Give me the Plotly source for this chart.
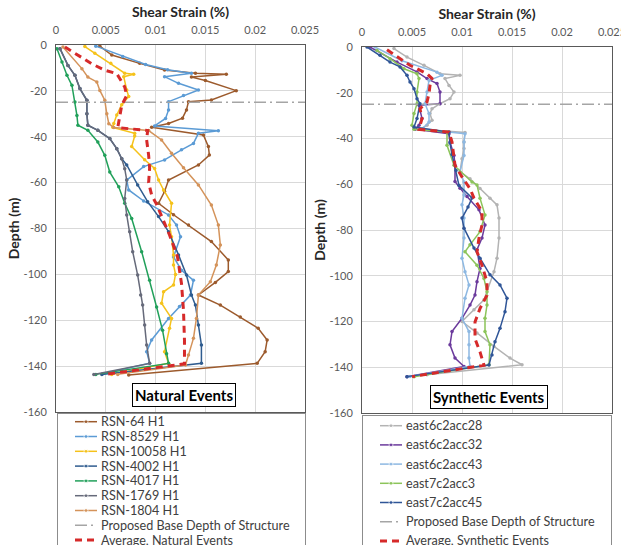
import plotly.graph_objects as go

# ---------------- data (shear strain in %, depth in m) ----------------
strain_ticks = [0, 0.005, 0.01, 0.015, 0.02, 0.025]
strain_tick_text = ["0", "0.005", "0.01", "0.015", "0.02", "0.025"]
depth_ticks = [0, -20, -40, -60, -80, -100, -120, -140, -160]
depth_tick_text = ["0", "-20", "-40", "-60", "-80", "-100", "-120", "-140", "-160"]

base_depth = -25
base_strain_span = [0, 0.025]
base_name = "Proposed Base Depth of Structure"

# Natural events
rsn64_strain = [0.0044, 0.0056, 0.0084, 0.0109, 0.0140, 0.0171, 0.0136, 0.0150, 0.0181, 0.0156, 0.0133, 0.0131,
                0.0127, 0.0113, 0.0096, 0.0148, 0.0153, 0.0154, 0.0143, 0.0113, 0.0109, 0.0103, 0.0118, 0.0133,
                0.0156, 0.0173, 0.0173, 0.0160, 0.0143, 0.0165, 0.0185, 0.0203, 0.0212, 0.0210, 0.0202, 0.0073]
rsn64_depth = [-0.5, -4.4, -8.0, -10.9, -12.3, -12.7, -14.0, -15.5, -19.9, -24.0, -24.7, -28.3,
               -31.9, -34.2, -35.9, -39.2, -44.3, -48.0, -52.3, -58.9, -63.9, -69.0, -74.0, -78.5,
               -85.7, -93.7, -98.8, -103.5, -109.0, -113.4, -118.6, -123.5, -128.6, -133.7, -138.8, -143.9]

rsn8529_strain = [0.0040, 0.0067, 0.0090, 0.0112, 0.0136, 0.0109, 0.0123, 0.0143, 0.0128, 0.0113, 0.0113, 0.0110,
                  0.0099, 0.0163, 0.0143, 0.0138, 0.0126, 0.0109, 0.0088, 0.0071, 0.0073, 0.0088, 0.0113, 0.0121,
                  0.0125, 0.0118, 0.0126, 0.0138, 0.0135, 0.0124, 0.0113, 0.0096, 0.0091, 0.0094, 0.0047]
rsn8529_depth = [-0.5, -5.0, -8.5, -10.8, -12.3, -13.8, -16.7, -19.6, -22.0, -24.7, -28.3, -32.0,
                 -35.3, -37.4, -38.5, -42.9, -45.7, -50.1, -53.0, -58.9, -63.2, -68.0, -74.1, -78.5,
                 -83.6, -92.4, -98.2, -102.6, -109.0, -114.0, -119.2, -128.6, -133.7, -138.7, -143.3]

rsn10058_strain = [0.0029, 0.0039, 0.0055, 0.0069, 0.0078, 0.0068, 0.0071, 0.0073, 0.0066, 0.0061, 0.0058, 0.0057,
                   0.0079, 0.0079, 0.0076, 0.0089, 0.0099, 0.0103, 0.0108, 0.0116, 0.0114, 0.0116, 0.0118, 0.0118,
                   0.0120, 0.0118, 0.0108, 0.0106, 0.0116, 0.0114, 0.0109, 0.0113, 0.0056]
rsn10058_depth = [-0.7, -3.6, -8.0, -12.3, -12.8, -13.8, -19.6, -22.5, -26.0, -30.5, -34.2, -35.9,
                  -38.5, -39.7, -44.3, -50.0, -53.8, -58.9, -63.2, -69.0, -78.5, -83.6, -91.5, -95.9,
                  -100.0, -104.6, -107.6, -112.6, -119.2, -123.5, -133.7, -138.7, -143.6]

rsn4002_strain = [0.0004, 0.0012, 0.0019, 0.0024, 0.0031, 0.0031, 0.0032, 0.0042, 0.0054, 0.0061, 0.0066, 0.0071,
                  0.0082, 0.0092, 0.0103, 0.0113, 0.0123, 0.0131, 0.0136, 0.0140, 0.0143, 0.0146, 0.0146, 0.0046]
rsn4002_depth = [-1.6, -8.9, -13.2, -19.0, -24.1, -30.0, -35.0, -37.2, -40.8, -45.2, -49.6, -52.3,
                 -61.0, -68.3, -74.8, -81.4, -91.5, -100.3, -109.0, -113.4, -122.1, -130.8, -138.8, -143.6]

rsn4017_strain = [0.0001, 0.0006, 0.0011, 0.0016, 0.0019, 0.0021, 0.0022, 0.0032, 0.0042, 0.0049, 0.0054, 0.0063,
                  0.0069, 0.0076, 0.0086, 0.0094, 0.0101, 0.0107, 0.0111, 0.0113, 0.0040]
rsn4017_depth = [-1.6, -7.4, -13.2, -17.6, -24.8, -30.7, -35.0, -37.2, -42.3, -48.1, -55.4, -61.8,
                 -69.0, -75.6, -90.1, -102.6, -114.2, -124.4, -134.6, -138.8, -143.6]

rsn1769_strain = [0.0004, 0.0012, 0.0019, 0.0024, 0.0031, 0.0031, 0.0032, 0.0042, 0.0054, 0.0061, 0.0066, 0.0069,
                  0.0071, 0.0069, 0.0071, 0.0074, 0.0077, 0.0082, 0.0085, 0.0087, 0.0089, 0.0091, 0.0094, 0.0038]
rsn1769_depth = [-1.6, -8.9, -13.2, -19.0, -24.1, -30.0, -35.0, -37.2, -40.8, -45.2, -49.6, -53.9,
                 -58.9, -66.9, -74.1, -81.4, -90.1, -100.3, -109.0, -113.4, -122.1, -130.8, -138.8, -143.7]

rsn1804_strain = [0.0007, 0.0026, 0.0032, 0.0041, 0.0044, 0.0049, 0.0051, 0.0053, 0.0058, 0.0093, 0.0106, 0.0116,
                  0.0128, 0.0143, 0.0156, 0.0163, 0.0165, 0.0161, 0.0155, 0.0143, 0.0141, 0.0138, 0.0133, 0.0130,
                  0.0062]
rsn1804_depth = [-0.9, -10.3, -14.0, -16.1, -19.8, -24.1, -30.0, -34.3, -36.0, -37.3, -41.4, -47.2,
                 -53.5, -61.0, -69.8, -78.5, -87.2, -95.9, -103.2, -109.0, -119.2, -127.9, -135.2, -139.5,
                 -143.6]

avg_nat_strain = [0.0009, 0.0022, 0.0036, 0.0049, 0.0061, 0.0064, 0.0069, 0.0071, 0.0066, 0.0063, 0.0062, 0.0092,
                  0.0091, 0.0093, 0.0094, 0.0093, 0.0096, 0.0101, 0.0108, 0.0114, 0.0122, 0.0126, 0.0128, 0.0129,
                  0.0129, 0.0049]
avg_nat_depth = [-0.9, -4.5, -8.2, -11.0, -12.5, -14.6, -18.3, -22.0, -26.3, -33.6, -36.0, -37.3,
                 -41.4, -48.0, -53.7, -60.0, -65.4, -69.5, -77.0, -82.8, -92.4, -104.0, -115.7, -128.8,
                 -139.0, -143.6]

# Synthetic events
e6c28_strain = [0.0032, 0.0045, 0.0062, 0.0078, 0.0098, 0.0083, 0.0087, 0.0092, 0.0088, 0.0078, 0.0070, 0.0068,
                0.0070, 0.0065, 0.0058, 0.0103, 0.0102, 0.0102, 0.0100, 0.0098, 0.0108, 0.0118, 0.0128, 0.0135,
                0.0137, 0.0137, 0.0135, 0.0132, 0.0122, 0.0112, 0.0100, 0.0115, 0.0132, 0.0148, 0.0160, 0.0065]
e6c28_depth = [-0.7, -4.4, -8.0, -11.7, -12.4, -13.8, -16.8, -19.7, -22.6, -24.8, -27.0, -29.1,
               -32.0, -34.2, -36.0, -37.4, -41.5, -44.4, -48.8, -54.6, -57.6, -61.9, -66.1, -69.0,
               -74.8, -83.5, -92.3, -98.2, -110.5, -114.9, -120.0, -125.0, -130.9, -136.0, -138.9, -143.3]

e6c32_strain = [0.0008, 0.0035, 0.0055, 0.0065, 0.0075, 0.0078, 0.0078, 0.0057, 0.0060, 0.0057, 0.0053, 0.0087,
                0.0088, 0.0092, 0.0093, 0.0093, 0.0098, 0.0105, 0.0117, 0.0123, 0.0120, 0.0115, 0.0118, 0.0115,
                0.0113, 0.0108, 0.0100, 0.0090, 0.0088, 0.0093, 0.0102, 0.0045]
e6c32_depth = [0.0, -6.6, -10.9, -13.8, -16.0, -19.7, -24.8, -25.5, -31.3, -34.2, -36.0, -37.9,
               -41.5, -47.4, -51.7, -58.8, -61.7, -65.4, -71.2, -77.8, -83.5, -88.6, -96.8, -102.6,
               -108.4, -112.8, -118.6, -124.4, -130.2, -136.0, -139.7, -144.1]

e6c43_strain = [0.0013, 0.0040, 0.0075, 0.0080, 0.0067, 0.0065, 0.0063, 0.0067, 0.0067, 0.0060, 0.0103, 0.0102,
                0.0102, 0.0098, 0.0102, 0.0102, 0.0100, 0.0102, 0.0102, 0.0100, 0.0103, 0.0107, 0.0103, 0.0100,
                0.0107, 0.0107, 0.0107, 0.0108, 0.0048]
e6c43_depth = [0.0, -6.0, -11.0, -12.4, -14.6, -19.7, -24.8, -29.1, -32.8, -36.0, -37.9, -41.5,
               -47.4, -54.6, -59.0, -64.7, -69.0, -74.8, -83.5, -92.3, -98.2, -104.0, -109.8, -118.6,
               -124.4, -130.2, -136.0, -139.6, -144.0]

e7c3_strain = [0.0015, 0.0028, 0.0042, 0.0055, 0.0057, 0.0055, 0.0055, 0.0052, 0.0050, 0.0052, 0.0085, 0.0085,
               0.0092, 0.0110, 0.0115, 0.0118, 0.0123, 0.0118, 0.0108, 0.0103, 0.0115, 0.0122, 0.0125, 0.0125,
               0.0123, 0.0123, 0.0128, 0.0127, 0.0052]
e7c3_depth = [-1.5, -5.1, -9.5, -11.7, -13.8, -19.7, -24.8, -29.1, -34.2, -36.0, -37.2, -43.0,
              -51.7, -59.0, -60.3, -66.1, -73.4, -80.7, -86.5, -89.5, -95.4, -101.2, -107.0, -112.8,
              -118.6, -124.4, -130.2, -138.9, -144.2]

e7c45_strain = [0.0005, 0.0018, 0.0028, 0.0038, 0.0045, 0.0048, 0.0052, 0.0055, 0.0058, 0.0055, 0.0052, 0.0087,
                0.0088, 0.0090, 0.0094, 0.0097, 0.0110, 0.0106, 0.0100, 0.0102, 0.0112, 0.0118, 0.0128, 0.0138,
                0.0145, 0.0143, 0.0138, 0.0133, 0.0130, 0.0127, 0.0045]
e7c45_depth = [0.0, -3.6, -6.6, -8.7, -12.4, -15.3, -18.2, -22.6, -24.8, -31.3, -35.0, -37.2,
               -42.0, -47.0, -54.0, -60.5, -66.0, -70.0, -74.8, -79.2, -87.9, -92.3, -99.6, -104.0,
               -109.8, -115.7, -123.0, -128.8, -134.6, -139.0, -144.1]

avg_syn_strain = [0.0025, 0.0048, 0.0065, 0.0070, 0.0068, 0.0067, 0.0065, 0.0058, 0.0060, 0.0057, 0.0087, 0.0090,
                  0.0093, 0.0100, 0.0108, 0.0112, 0.0120, 0.0120, 0.0117, 0.0115, 0.0120, 0.0125, 0.0125, 0.0118,
                  0.0113, 0.0113, 0.0118, 0.0122, 0.0050]
avg_syn_depth = [-1.2, -8.0, -11.7, -13.8, -16.8, -20.4, -24.0, -27.0, -31.3, -36.0, -37.2, -41.5,
                 -51.7, -56.8, -61.9, -66.1, -71.9, -77.8, -83.5, -89.5, -95.4, -102.7, -108.5, -114.3,
                 -120.2, -127.5, -133.3, -139.1, -144.1]

natural_series = [
    ("RSN-64 H1", rsn64_strain, rsn64_depth, "#9C5A2C"),
    ("RSN-8529 H1", rsn8529_strain, rsn8529_depth, "#5B9BD5"),
    ("RSN-10058 H1", rsn10058_strain, rsn10058_depth, "#F5C21B"),
    ("RSN-4002 H1", rsn4002_strain, rsn4002_depth, "#2F5C8F"),
    ("RSN-4017 H1", rsn4017_strain, rsn4017_depth, "#21A05A"),
    ("RSN-1769 H1", rsn1769_strain, rsn1769_depth, "#666A7A"),
    ("RSN-1804 H1", rsn1804_strain, rsn1804_depth, "#D4935A"),
]
synthetic_series = [
    ("east6c2acc28", e6c28_strain, e6c28_depth, "#B3B3B3"),
    ("east6c2acc32", e6c32_strain, e6c32_depth, "#6B3A9C"),
    ("east6c2acc43", e6c43_strain, e6c43_depth, "#8DB8E2"),
    ("east7c2acc3", e7c3_strain, e7c3_depth, "#8CC45A"),
    ("east7c2acc45", e7c45_strain, e7c45_depth, "#2F5597"),
]

# ---------------- styling ----------------
FONT = "Lato"
W, H = 621, 545
BASE_STYLE = dict(color="#A5A5A5", width=1.5, dash="12px,4px,2px,4px")
AVG_STYLE = dict(color="#D62A2A", width=3, dash="7px,5px")

fig = go.Figure()
annotations = []


def add_panel(series, avg_x, avg_y, avg_name, xa, ya, lxa, lya):
    # data traces
    for name, xs, ys, col in series:
        fig.add_trace(go.Scatter(
            x=xs, y=ys, name=name, mode="lines+markers", xaxis=xa, yaxis=ya,
            line=dict(color=col, width=1.5), marker=dict(color=col, size=3.5)))
    fig.add_trace(go.Scatter(
        x=base_strain_span, y=[base_depth, base_depth], name=base_name,
        mode="lines", xaxis=xa, yaxis=ya, line=BASE_STYLE))
    fig.add_trace(go.Scatter(
        x=avg_x, y=avg_y, name=avg_name, mode="lines", xaxis=xa, yaxis=ya, line=AVG_STYLE))

    # legend box (Excel-style, one entry per row, drawn on its own axes; row index = y)
    entries = [(n, dict(color=c, width=1.5), True) for n, _, _, c in series]
    entries += [(base_name, BASE_STYLE, False), (avg_name, AVG_STYLE, False)]
    for row, (name, style, has_marker) in enumerate(entries):
        fig.add_trace(go.Scatter(
            x=[17, 28, 39], y=[row, row, row], mode="lines+markers" if has_marker else "lines",
            line=style, marker=dict(color=style["color"], size=[0, 4, 0]),
            xaxis=lxa, yaxis=lya, hoverinfo="skip", name=name))
        annotations.append(dict(
            text=name, x=41, y=row, xref=lxa, yref=lya, xanchor="left", yanchor="middle",
            showarrow=False, font=dict(family=FONT, size=12.6, color="#404040")))


add_panel(natural_series, avg_nat_strain, avg_nat_depth, "Average, Natural Events", "x", "y", "x3", "y3")
add_panel(synthetic_series, avg_syn_strain, avg_syn_depth, "Average, Synthetic Events", "x2", "y2", "x4", "y4")

xcommon = dict(range=[0, 0.025], tickvals=strain_ticks, ticktext=strain_tick_text, side="top",
               showgrid=True, gridcolor="#D9D9D9", gridwidth=1, zeroline=False,
               showline=True, linecolor="#595959", linewidth=1, mirror=True, ticks="",
               ticklabelstandoff=6, ticklabeloverflow="allow",
               tickfont=dict(family=FONT, size=11, color="#595959"),
               title=dict(text="<b>Shear Strain (%)</b>", font=dict(family=FONT, size=14, color="#262626"),
                          standoff=1))
ycommon = dict(range=[-160, 0], tickvals=depth_ticks, ticktext=depth_tick_text,
               showgrid=True, gridcolor="#D9D9D9", gridwidth=1, zeroline=False,
               showline=True, linecolor="#595959", linewidth=1, mirror=True, ticks="",
               ticklabelstandoff=6,
               tickfont=dict(family=FONT, size=11, color="#595959"),
               title=dict(text="<b>Depth (m)</b>", font=dict(family=FONT, size=14, color="#262626"),
                          standoff=0))

leg_x = dict(showgrid=False, zeroline=False, showticklabels=False, ticks="", fixedrange=True,
             showline=True, linecolor="#8C8C8C", linewidth=1, side="top", mirror=False)
leg_y = dict(showgrid=False, zeroline=False, showticklabels=False, ticks="", fixedrange=True,
             showline=True, linecolor="#8C8C8C", linewidth=1, mirror=True)

# legend rows: left spacing 14.8 px starting 7.7 px below the box top; right 19.2 px, 9.7 px below
left_top, left_step, left_first = 414, 14.8, 7.7
right_top, right_step, right_first = 416, 19.2, 9.7

annotations += [
    dict(text="<b>Natural Events</b>", xref="paper", yref="paper", x=183.5 / W, y=1 - 394.5 / H,
         xanchor="center", yanchor="middle",
         showarrow=False, font=dict(family=FONT, size=15, color="black"),
         bordercolor="black", borderwidth=1, borderpad=2, bgcolor="white"),
    dict(text="<b>Synthetic Events</b>", xref="paper", yref="paper", x=488.5 / W, y=1 - 397 / H,
         xanchor="center", yanchor="middle",
         showarrow=False, font=dict(family=FONT, size=15, color="black"),
         bordercolor="black", borderwidth=1, borderpad=2, bgcolor="white"),
]

fig.update_layout(
    width=W, height=H, autosize=False, showlegend=False,
    margin=dict(l=0, r=0, t=0, b=0, autoexpand=False),
    paper_bgcolor="white", plot_bgcolor="white",
    font=dict(family=FONT),
    xaxis=dict(xcommon, domain=[56 / W, 305 / W], anchor="y"),
    yaxis=dict(ycommon, domain=[1 - 412 / H, 1 - 45 / H], anchor="x"),
    xaxis2=dict(xcommon, domain=[362 / W, 612 / W], anchor="y2"),
    yaxis2=dict(ycommon, domain=[1 - 413 / H, 1 - 47 / H], anchor="x2"),
    xaxis3=dict(leg_x, domain=[58 / W, 305 / W], range=[0, 247], anchor="y3"),
    yaxis3=dict(leg_y, domain=[0, 1 - left_top / H], anchor="x3",
                range=[(H - left_top - left_first) / left_step, -left_first / left_step]),
    xaxis4=dict(leg_x, domain=[363 / W, 611 / W], range=[0, 248], anchor="y4"),
    yaxis4=dict(leg_y, domain=[0, 1 - right_top / H], anchor="x4",
                range=[(H - right_top - right_first) / right_step, -right_first / right_step]),
    annotations=annotations,
)

fig.write_html("out.html")
